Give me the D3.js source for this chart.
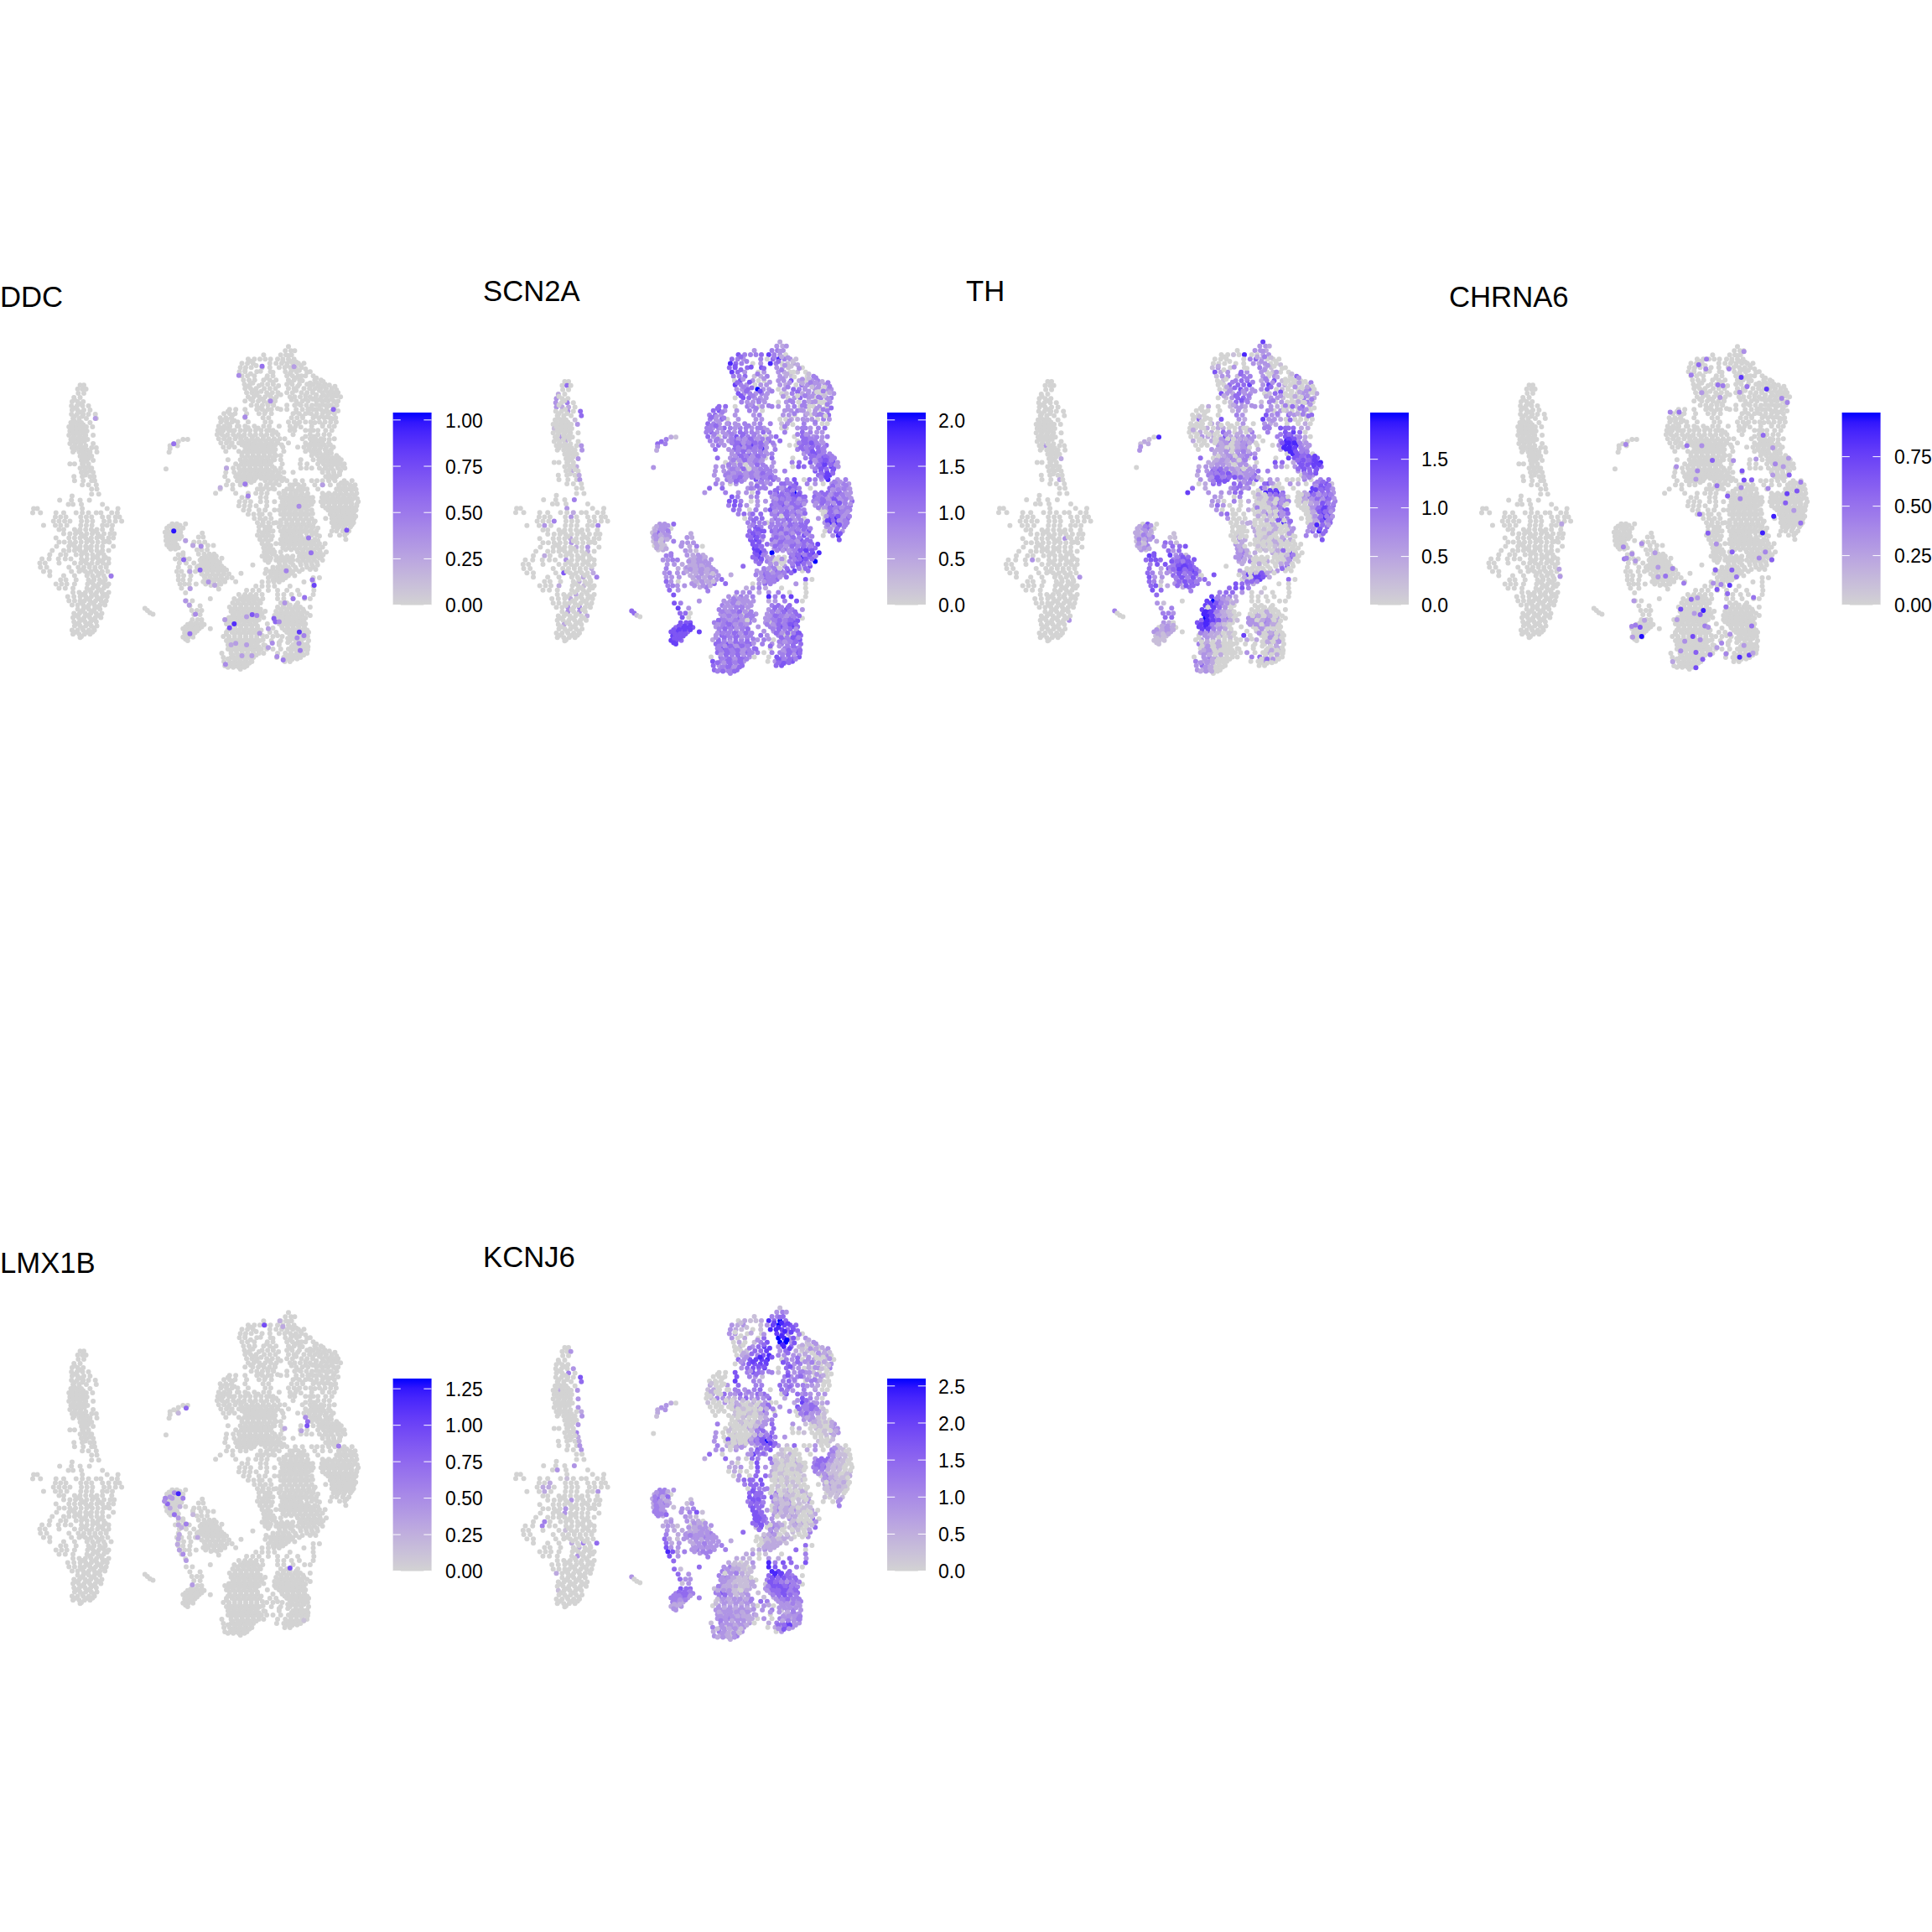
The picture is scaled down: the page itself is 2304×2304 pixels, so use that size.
<!DOCTYPE html>
<html>
<head>
<meta charset="utf-8">
<script src="https://d3js.org/d3.v7.min.js"></script>
<style>
body { margin: 0; background: #fff; }
text { font-family: "Liberation Sans", Arial, sans-serif; }
</style>
</head>
<body>
<div id="chart"></div>
<script>
// cells read row by row off the UMAP: [umap2, umap1, umap1, ...]
const cellRows = [
[478,258,270],[492,250,265,277],[507,252,270],[522,238,258],[537,232,250,268],[552,230,248,266,285],
[567,232,250,270,290],[582,230,248,268,285,307],[597,235,255,278,310],[612,228,245,262,290],
[627,222,240,258,278,298],[642,225,243,261,280],[657,222,240,258,276,300],[672,228,246,264,282],
[687,225,243,260,300],[702,232,250,268,295,310],[717,235,255,272,290,312],[732,258,275,295],
[747,262,280,300],[760,225,240,265,285],[775,258,276,295],[790,262,280,300],[805,238,265,290,303],
[820,240,268,295,305],[835,265,285,310],[850,295,312],[868,295,318],
[875,232],[890,192,230,258,288],[905,220,235,262,330],[920,108,120,265,345,380],
[935,105,130,180,205,245,265,285,310,325,360,378],[950,178,195,212,260,278,295,330,350,372,385],
[965,172,190,208,225,262,280,298,335,352,372,392],[980,140,178,195,215,260,278,296,330,345,362],
[995,190,205,240,258,276,294,312,330,360],[1010,205,225,243,261,279,297,315,335,368,355],
[1025,180,222,240,258,276,294,312,330,350,365],[1040,190,207,225,243,261,279,297,315,333,352],
[1055,182,222,240,258,276,294,312,330,365],[1070,168,205,222,240,258,276,294,312,330,350],
[1085,160,195,212,245,262,280,298,316,334],[1100,135,158,188,210,228,262,280,298,316,334,350],
[1115,128,145,190,240,260,278,296,314,332,350],[1130,130,150,222,252,270,288,306,324,342],
[1145,140,160,230,255,275,293,311,329,347],[1160,160,205,240,280,298,316,334,358],
[1175,195,212,245,285,303,321,339],[1190,180,198,215,240,282,300,318,336,350],
[1205,190,210,235,280,298,316,334],[1220,235,255,275,293,311,329,350],
[1235,218,238,258,276,294,312,330,345],[1250,222,240,258,272,290,308,326,342],
[1265,232,250,268,286,304,322,338],[1280,250,268,286,304,322],[1295,238,256,274,292,310,328],
[1310,235,253,271,289,307,325],[1325,238,256,274,292,310],[1340,240,258,276,294,312],
[1355,232,250,268,286,304],[1370,235,255,272,290],[1382,258],
[1277,467],[1285,475],[1293,483],[1298,493],
[672,590,605],[680,575],[688,560],[695,548,572],[705,548],[718,545],[778,535],
[975,555,570,598],[990,538,555,572,590],[1005,532,548,565,582],[1020,535,552,570,585],
[1035,535,550,565,598],[1050,538,555,570,622],[1065,550,565],[1078,590],[1085,575,590],
[1100,565,580,595,610],[1115,578,600,625],[1130,575,612,635],[1145,570,585,610,630],
[1160,575,592,615],[1175,575,590,612],[1190,580,595,610,632],[1205,585,612],[1222,598],
[1250,600,620],[1268,612,645],[1285,618,635,650],[1300,625,645],[1318,620,637,650],
[1335,605,622,640,658],[1350,590,607,625,642,678],[1365,595,612,628],[1380,590,607,622],[1393,605],
[1008,652],[1022,640,655],[1040,625,642,660],[1052,622,648,670,688],[1068,635,650,668],
[1083,640,658,675,690],[1098,650,668,686,715],[1112,655,672,690,708],[1126,640,660,678,696,714],
[1140,640,658,676,694,712,730],[1154,650,668,686,704,722,738],[1168,660,678,696,714,732,748],
[1182,655,672,690,708,725,760],[1195,680,700],[1208,705],[1243,678],[1152,777],[1122,815],
[340,930],[355,920,938,950],[370,850,905,922,940],[385,800,820,838,855,872,895,912,930,948],
[400,780,798,816,870,890,908,926,944,962,980],[415,775,792,810,845,870,900,918,936,954,972],
[430,772,790,828,872,920,938,956,1000],[445,780,798,820,862,880,925,943,961,985,1010],
[460,785,803,821,850,870,890,930,948,966,1015,1035],
[475,788,806,845,863,881,925,942,965,990,1010,1030,1048],
[490,790,808,826,852,870,888,930,948,980,998,1016,1034,1052,1070],
[505,795,812,830,860,878,896,925,943,972,990,1008,1040,1058,1076,1090],
[520,800,818,836,855,873,891,935,950,968,1000,1018,1036,1054,1072,1098],
[535,790,815,833,851,869,887,955,975,993,1020,1040,1058,1076,1090],
[550,810,828,846,864,882,925,950,970,988,1006,1030,1050,1068,1086],
[565,740,760,790,828,846,864,905,925,955,975,993,1011,1035,1053,1075],
[580,722,740,758,795,835,853,875,945,965,985,1003,1021,1040,1058,1078],
[595,710,728,746,790,848,866,940,958,976,1010,1028,1046,1064,1082],
[610,712,730,748,766,800,855,873,930,948,966,1002,1030,1048,1066,1084],
[625,705,723,741,770,790,820,850,868,900,935,953,1005,1040,1062,1078],
[640,702,720,738,756,790,806,824,842,860,880,935,950,985,1000,1070],
[655,700,716,734,752,770,788,806,824,842,860,878,896,945,1025,1045,1062],
[670,705,722,740,758,776,794,812,830,848,866,884,902,918,975,1000,1018,1035,1078],
[685,712,730,748,770,788,806,824,842,860,878,896,930,985,1003,1021,1040,1060],
[700,720,738,756,790,808,826,844,862,880,912,960,980,998,1016,1034,1052,1075],
[715,728,770,788,806,824,842,860,878,915,985,1003,1021,1060],
[730,780,798,816,834,852,870,890,1005,1023,1041,1059,1085],
[745,735,775,793,811,829,847,865,885,905,970,1010,1028,1046,1064,1082,1100],
[760,760,778,796,814,832,850,868,910,968,990,1025,1043,1061,1079,1097,1110],
[775,730,752,770,788,806,824,842,860,885,905,970,988,1005,1030,1048,1066,1090,1112],
[790,728,755,773,791,809,827,845,863,880,900,915,945,1040,1058,1076,1095],
[805,725,760,778,796,814,832,850,868,886,904,1050,1068,1085],
[820,735,765,783,801,819,855,873,891,909,925,952,975,1005,1022,1040,1060,1080,1110,1135],
[835,730,750,775,793,860,880,900,945,962,980,1015,1040,1065,1092,1110,1128,1145],
[850,710,750,830,848,866,885,925,943,961,979,1025,1085,1103,1121,1139],
[865,695,760,800,825,843,861,900,920,938,956,974,992,1040,1060,1080,1098,1116,1134,1150],
[880,780,798,840,858,905,925,943,961,979,997,1038,1056,1074,1092,1110,1128,1146],
[895,772,790,808,840,860,885,910,928,946,964,982,1000,1035,1053,1071,1089,1107,1125,1155],
[910,770,788,806,826,860,905,923,941,959,977,995,1040,1060,1078,1096,1114,1132,1150],
[925,785,803,835,855,885,900,918,936,954,972,990,1005,1058,1076,1094,1112,1130,1148],
[940,800,818,836,870,905,925,943,961,979,997,1065,1083,1101,1119,1137],
[955,820,838,856,874,915,933,951,969,987,1005,1050,1070,1088,1106,1124,1142],
[970,830,848,866,890,905,923,941,959,977,995,1012,1070,1088,1106,1124,1140],
[985,835,853,871,900,918,936,954,972,990,1010,1075,1093,1111,1130],
[1000,835,853,870,905,923,941,959,978,1000,1020,1070,1085,1105,1125],
[1015,830,848,866,910,928,946,964,1005,1022,1065,1095,1112],
[1030,838,856,874,905,923,941,959,977,995,1015,1115],
[1045,845,863,890,905,923,941,959,977,995,1013,1030,1048],
[1060,850,868,912,930,948,966,984,1002,1020],
[1075,852,870,885,905,960,978,996,1014,1032,1052],
[1090,845,863,890,908,926,944,965,983,1001,1019,1037],
[1105,855,870,890,908,926,944,960,978,996,1014,1040],
[1122,902,920,945,970,988,1006,1024],
[1138,858,880,898,916,934,955,975,1000,1018],
[1152,855,880,900,920,938],
[1168,865,885,903,921,1030,1010],
[1183,845,865,883,900,1010,980],
[1198,825,845,865,885,935,1010],
[1213,795,815,835,865,895,925,960,1012],
[1228,770,790,808,826,845,895,915,940,965,1010],
[1243,755,775,793,811,829,847,895,915,945,982,1000],
[1258,750,768,786,804,822,840,905,925,960],
[1273,740,758,776,794,812,830,895,913,931,950,968,1000],
[1288,745,763,781,799,817,835,855,890,908,926,944,962,980],
[1303,750,768,786,804,822,840,885,903,921,939,957,975,1000],
[1318,725,745,763,781,799,817,835,885,900,918,936,954,972],
[1333,730,750,768,786,804,822,862,900,918,936,954,972,985],
[1348,740,758,776,794,812,830,880,910,928,946,964,982],
[1363,730,748,766,784,802,820,838,870,890,925,943,961,979,995],
[1378,720,738,756,774,792,810,828,860,880,910,940,958,976,992],
[1393,730,748,766,784,802,820,838,875,905,935,953,971,995],
[1408,735,753,771,789,807,825,850,900,945,963,981],
[1423,735,753,771,789,807,825,843,860,880,905,930,948,966,984],
[1438,715,745,763,781,799,817,835,850,895,920,938,956,974,990],
[1453,720,745,763,781,799,817,892,915,933,951,969],
[1468,722,740,758,776,794,812,918,935],
[1483,725,742,760,778,796],
[1495,775]
];

// cells between the rows above, by region: [umap1, umap2]
const fillCells = [
[[808,392],[826,408],[790,425],[808,437],[840,428],[880,432],[815,470],[797,482],[835,480],[860,452],[880,468],[898,480],[817,497],[842,500],[868,512],[886,528],[905,512],[825,512],[808,528],[845,528],[863,544],[880,545],[838,560],[856,572],[875,565],[895,562]],
[[930,372],[912,392],[935,392],[955,395],[970,408],[925,408],[945,422],[965,425],[985,420],[935,437],[952,452],[972,445],[990,432],[1020,452],[938,468],[975,462],[1000,470],[1020,468],[1042,465],[960,482],[1000,485],[1025,482],[1043,482],[1062,478],[1080,482],[955,497],[1008,500],[1030,497],[1050,497],[1068,498],[1085,495],[985,515],[1020,512],[1045,515],[1065,512],[1085,517],[940,530],[985,528],[1008,528],[1030,530],[1050,532],[1068,528],[1082,540],[962,545],[1020,548],[1040,548],[1060,552],[1078,558],[1000,562],[1022,565],[1045,572],[1065,575],[1090,570],[955,575],[975,590],[995,578],[1015,590],[1038,590],[1055,592],[1072,598],[960,615],[985,610],[1015,612],[1040,620],[945,635],[970,628]],
[[735,572],[750,585],[732,600],[716,603],[755,605],[738,618],[715,632],[730,632],[765,625],[712,647],[745,640],[775,640],[800,630],[832,632]],
[[725,662],[762,662],[780,662],[815,662],[850,662],[870,640],[890,647],[735,678],[780,678],[800,678],[820,678],[838,678],[857,678],[875,678],[893,678]],
[[745,692],[780,692],[798,692],[816,692],[834,692],[852,692],[870,692],[888,692],[908,692],[800,708],[818,708],[835,708],[852,708],[870,708],[888,708]],
[[780,722],[798,722],[815,722],[833,722],[851,722],[869,722],[885,722],[790,738],[808,738],[825,738],[843,738],[861,738],[880,738],[905,730]],
[[785,752],[803,752],[820,752],[838,752],[856,752],[875,752],[770,768],[787,768],[805,768],[823,768],[841,768],[859,768],[877,768]],
[[780,783],[798,783],[816,783],[834,783],[852,783],[870,783],[890,783],[768,798],[786,798],[804,798],[822,798],[840,798],[858,798],[876,798],[895,798]],
[[770,812],[788,812],[806,812],[824,812],[842,812],[860,812],[880,812],[900,812],[915,812],[775,826],[793,826],[810,826],[840,835],[870,828],[888,830],[840,850],[858,842],[878,848]],
[[1010,640],[1025,640],[1050,640],[1000,655],[1012,662],[985,662],[1045,672],[1062,672],[1010,678],[1028,678],[990,692],[1010,692],[1028,692],[1045,692],[1065,692],[995,708],[1012,708],[1030,708],[1048,708],[1068,708],[1015,722],[1032,722],[1050,722],[1068,722],[1035,738],[1052,738],[1072,738],[1092,738],[1038,752],[1056,752],[1073,752],[1091,752],[1052,768],[1070,768],[1088,768],[1105,768],[1040,783],[1058,783],[1075,783],[1098,783],[1060,798],[1078,798],[1095,798],[1058,812],[1075,812]],
[[1100,828],[1118,828],[1136,840],[1095,842],[1112,842],[1130,852],[1094,855],[1112,855],[1148,852],[1050,872],[1070,872],[1088,872],[1106,872],[1124,872],[1142,872],[1045,888],[1063,888],[1081,888],[1099,888],[1117,888],[1136,888],[1152,885],[1043,902],[1062,902],[1080,902],[1098,902],[1116,902],[1134,902],[1150,905],[1050,918],[1068,918],[1086,918],[1104,918],[1122,918],[1140,918],[1070,932],[1088,932],[1106,932],[1124,932],[1142,932],[1075,948],[1093,948],[1111,948],[1129,948],[1147,948],[1078,963],[1096,963],[1114,963],[1133,963],[1080,978],[1098,978],[1116,978],[1135,978],[1088,992],[1108,992],[1118,1008]],
[[935,835],[955,832],[973,842],[990,850],[915,858],[935,850],[952,858],[970,858],[988,872]],
[[915,872],[935,872],[952,872],[970,872],[1008,880],[918,888],[937,888],[955,888],[973,888],[990,888],[1010,895]],
[[915,902],[933,902],[950,902],[968,902],[986,902],[1005,905],[912,918],[930,918],[948,918],[966,918],[984,918]],
[[915,932],[933,932],[951,932],[969,932],[987,932],[1008,938],[915,947],[934,947],[952,947],[970,947],[988,947]],
[[845,940],[855,925],[905,962],[924,962],[942,962],[960,962],[978,962],[996,962],[1016,965],[848,962],[865,985]],
[[882,972],[905,977],[927,977],[945,977],[963,977],[981,977],[1000,980],[845,978],[862,993],[880,1000]],
[[915,993],[933,993],[950,993],[968,993],[986,993],[1005,993],[1025,990],[845,1008],[862,1008]],
[[915,1008],[933,1008],[950,1008],[970,1008],[988,1008],[1012,1008],[840,1022],[858,1022],[878,1018]],
[[918,1022],[936,1022],[954,1022],[972,1022],[990,1022],[1030,1018],[845,1037],[865,1037]],
[[915,1037],[932,1037],[950,1037],[968,1037],[986,1037],[1005,1037],[1025,1035],[855,1052],[873,1052]],
[[915,1052],[933,1052],[950,1052],[968,1052],[986,1052],[1005,1052],[1025,1052],[1040,1058]],
[[860,1067],[880,1067],[921,1067],[939,1067],[957,1067],[975,1067],[993,1067],[1011,1067],[1030,1067]],
[[858,1082],[878,1082],[970,1082],[988,1082],[1006,1082],[1024,1082],[1042,1085]],
[[855,1097],[873,1097],[900,1097],[918,1097],[936,1097],[975,1097],[992,1097],[1010,1097],[1030,1097]],
[[865,1113],[900,1113],[918,1113],[936,1113],[968,1113],[986,1113],[1004,1113],[1022,1113]],
[[880,1130],[895,1130],[912,1130],[930,1130],[952,1130],[990,1130],[1010,1130]],
[[870,1145],[890,1145],[908,1145],[926,1145],[944,1145],[965,1145]],
[[872,1160],[892,1160],[910,1160],[930,1160],[950,1160]],
[[880,1175],[895,1175],[912,1175]],
[[785,1235],[803,1235],[820,1235],[765,1250],[783,1250],[800,1250],[818,1250],[836,1250],[758,1265],[776,1265],[794,1265],[812,1265],[830,1265]],
[[750,1280],[768,1280],[786,1280],[804,1280],[822,1280],[840,1280],[755,1295],[772,1295],[790,1295],[808,1295],[826,1295],[845,1295],[738,1310],[756,1310],[774,1310],[792,1310],[810,1310],[828,1310],[850,1310]],
[[736,1325],[754,1325],[772,1325],[790,1325],[808,1325],[826,1325],[740,1340],[758,1340],[776,1340],[794,1340],[812,1340],[830,1340]],
[[735,1355],[752,1355],[770,1355],[788,1355],[806,1355],[824,1355],[842,1355],[730,1370],[756,1370],[774,1370],[792,1370],[810,1370],[828,1370],[846,1375]],
[[738,1385],[756,1385],[774,1385],[792,1385],[810,1385],[828,1385],[848,1390],[740,1400],[758,1400],[776,1400],[794,1400],[812,1400],[830,1400]],
[[745,1415],[762,1415],[780,1415],[798,1415],[816,1415],[834,1415],[855,1410],[745,1430],[762,1430],[780,1430],[798,1430],[816,1430],[834,1430]],
[[750,1445],[772,1445],[790,1445],[808,1445],[826,1445],[735,1458],[755,1458],[772,1458],[790,1458],[808,1458],[750,1473],[768,1473],[786,1473],[804,1473],[735,1488],[752,1488],[770,1488],[788,1488]],
[[915,1265],[935,1265],[955,1265],[905,1280],[923,1280],[941,1280],[959,1280],[977,1280],[898,1295],[916,1295],[934,1295],[952,1295],[970,1295],[990,1295]],
[[893,1310],[911,1310],[929,1310],[947,1310],[965,1310],[985,1312],[890,1325],[908,1325],[926,1325],[944,1325],[962,1325],[980,1325]],
[[908,1340],[926,1340],[944,1340],[962,1340],[980,1340],[918,1355],[936,1355],[954,1355],[972,1355],[990,1355]],
[[934,1370],[952,1370],[970,1370],[988,1370],[895,1375],[928,1385],[944,1385],[962,1385],[980,1385],[900,1400],[928,1400],[954,1400],[972,1400],[990,1405]],
[[940,1415],[957,1415],[975,1415],[993,1415],[938,1430],[956,1430],[974,1430],[992,1425],[925,1445],[943,1445],[961,1445],[979,1445],[925,1458],[942,1460],[958,1458]],
[[662,1090],[680,1090],[697,1090],[645,1105],[662,1105],[680,1105],[698,1105],[648,1120],[665,1120],[685,1120],[703,1120],[650,1133],[668,1133],[686,1133],[704,1133],[722,1133],[668,1147],[685,1147],[703,1147],[720,1147],[658,1161],[676,1161],[694,1161],[712,1161],[668,1175],[686,1175],[704,1175],[722,1175],[663,1190],[690,1190],[712,1190]],
[[545,983],[563,983],[580,980],[540,998],[563,998],[580,998],[540,1013],[557,1013],[575,1013],[543,1028],[560,1028],[578,1028],[543,1043],[560,1043],[545,1058],[560,1058],[575,1060]],
[[615,1330],[632,1330],[650,1328],[598,1343],[615,1343],[633,1343],[650,1343],[602,1358],[618,1358],[635,1358],[600,1373],[617,1373],[598,1388]],
[[240,530],[258,545],[240,560],[260,575],[240,590],[265,590],[238,605],[255,605],[232,620],[250,620],[268,620],[232,635],[250,635],[268,635],[235,650],[250,650],[268,650],[236,665],[254,665],[272,665],[236,680],[254,680],[272,680],[240,695],[258,695],[276,695],[240,710],[262,710],[280,710],[268,725],[285,725],[268,740],[285,740],[270,755],[270,770],[285,770],[272,785],[290,785],[275,800]],
[[250,1003],[268,1018],[285,1033],[303,1002],[322,1020],[340,1038],[232,1048],[250,1063],[268,1078],[286,1060],[304,1093],[322,1078],[340,1095],[270,1108],[288,1122],[306,1138],[324,1108],[342,1123],[264,1140],[283,1152],[302,1168],[320,1153],[338,1170],[292,1183],[310,1198],[328,1183],[345,1198],[289,1212],[307,1228],[325,1213],[340,1228],[265,1228],[283,1243],[300,1258],[318,1243],[336,1258],[262,1258],[280,1273],[297,1288],[314,1273],[262,1288],[245,1303],[265,1318],[283,1303],[300,1318],[318,1303],[247,1333],[265,1348],[285,1333],[302,1348],[242,1363],[262,1378],[280,1363],[298,1362]]
];

// busy genes: one string per cellRows row, digit 0-9 = share of the gene's max, missing digits are 0
const scn2aLevels = [
"","050","","20","300","3040","3220","00305","0005","0001","00003","1000","","0300","0020","00003","00003","","003","","002","020","0002","0003","","","",
"","0004","","00300","00000020000","0000300000","00040000000","0030000004","","","0000200000","0000030000","000002030","0000000020","02","00000300000","","000000002","000600002","00000204","00002","0002001","","0002","0002","","00304","0303","000002","","02","","","","",
"5","5","1","",
"21","4","5","54","3","2","3",
"335","1330","1533","2323","1034","0214","12","4","44","3344","332","422","3433","333","530","4433","53","6","64","73","550","60","666","5776","67657","766","765","7",
"2","32","333","3240","321","3232","2323","2333","32323","223233","231233","121235","312355","24","4","3","2","5",
"2","323","3443","644457430","5434058431","8540384012","56563010","7530332010","44512432104","063003362034",
"74303332053333","335933035433033","634343014233003","06533303530434","43343034043003","550440433404030",
"563343033430304","45333433030445","435033300233043","543434344134300","434534434300345","4533435443544433",
"530436544303505434","44335445305505443","35356574430054545","5354543844554","354644335644","5345334050454654",
"0302343345636563","333450324306535673","3334034344346656","3434433444567","3435365453460543834","43032445464303443",
"553344546505333","3433055645954554533","64343554655435343","6640334553444453635","465335464553436435","540336343544034544",
"453545545305443","0455546440307835","4540545355538834","36444554553044","55655445360463","574343563038",
"67353543656","655353454357","743553465","6849453578","57330056853","45400045749","4035536","340556705",
"45443","354506","035403","234200","43423400","3243484670","33433323460","433423455","434330354643",
"3434043345435","4335343443540","4354334304356","3445343436475","543543335306","35435345340065","25453643405456",
"5463545434355","46453350435","53543544044356","05435530065356","64545303556","53453556","54345","4"
];
const thLevels = [
"","","","","","","","","","","","","","","","03","","","002","","","","","002","","","",
"","","","","","","","","","","0000003","","","","","00030","","","","00000003","","","","","","","","","","000003","","","","","",
"4","","","",
"08","1","2","12","3","3","0",
"060","2350","2131","2244","1042","2140","31","6","76","5665","466","526","5423","633","541","5602","65","5","31","34","443","55","320","0320","32320","121","111","1",
"1","11","541","4556","535","7351","4566","4665","44775","346573","556430","434545","334654","25","4","0","6","0",
"7","332","0332","001080023","0000452000","0000032300","13004210","6235330100","13314430305","014552461000",
"00555737420000","003643360100040","632533015000302","01355333100402","01534140300040","020133333200150",
"000013140310040","00004363353005","050063273300000","000220030320020","000222002044652","0020205302044750",
"003220623343046630","20020352433048732","00032023400387833","0322323322874","223243408650","5023424050765466",
"2232023065264678","233303200243036475","3356303433543655","2454353235043","3365624560320004045","02555406203204561",
"523534600007564","7333550087850273553","32040102540353564","3204020020540203254","253001003500033565","300020002066025754",
"450001425302076","3000000364002584","0012000308403025","00020002033025","00020020033585","020201000432",
"03201020326","320001020000","330200100","3402210600","34200000250","22400200030","0000350","300002300",
"07775","006705","654200","566400","45530100","7444200000","79531200000","775200000","786321000000",
"8733210020200","9652403303020","6875210332422","7862300032000","563201010330","03222007000320","03020000220030",
"4202000000220","03020000002","23200000300200","03430000452000","42300000300","35200000","32200","0"
];
const kcnj6Levels = [
"","003","","","","0003","0040","00006","0005","","02003","","00003","","0003","00002","00003","","003","","004","002","0002","0003","003","","",
"","0003","03","","000001","002","022","0020000003","","00003","","00003","0003","","04","004","00001","","","00020405","00002","","00003","","","","2","","","","1","","","","",
"3","","","",
"20","3","3","23","2","1","0",
"443","2430","2512","2342","2431","4432","42","2","23","2321","322","423","5213","523","633","8624","63","5","51","53","533","13","655","4554","44434","432","223","3",
"1","13","324","3461","321","3220","0213","1231","33324","333433","232233","334334","343334","34","4","5","2","5",
"1","343","1445","021128595","3231379765","3210188756","33007630","3020598313","02014699313","013573851001",
"00155735201202","022468433200230","536778043032010","04667753420013","35657053300304","006465415343100",
"000643143432030","00074345304300","200354454443200","120043450544300","020535335506533","0143214534352420",
"100312002030027333","00003100335364450","00010011504034330","0010200140320","010100333200","4002011353102003",
"0100225502010033","300100053500100133","3000003656430000","3001045694101","4203223553150030010","33036260002304310",
"503743102004211","2520545010103553210","20064110204532110","2230631010014551200","020052010014311101","030352010101042012",
"355601000123211","4556002010023110","0544010211012110","55504021010120","65452310021011","465321313003",
"55503131014","643042131020","653123201","6643310050","56432013210","16043011005","4101004","033022003",
"01121","022205","123205","230104","22103253","2101384656","34210286540","433001875","442122587540",
"3321120465545","3211121665640","1221012355665","4631231356445","432212125434","02323345434234","03323230303323",
"3332332341343","32323230233","33433220304324","14333230245723","43132302363","24311303","32214","2"
];

// same digits for fillCells, one string per region (the last two regions stay at 0)
const scn2aFill = [
"54656535643345634564433434",
"342315312420313031432432443130453042304341342304403453432340323440",
"54354345343434","434544344335344","345345534435453","34534433543544","4353434340354","435034443434354","345343454354343454",
"434534435445643545544654545435645753465657547",
"43453434345354345363433543643435434053433563475344364356",
"545453546","45465344534","45354344435","34543540534","54344534554","4443545466","453445465","435354565","54354466","354435565","54354545","754334676","6445464","563034565","53304654","4340545","343445","34435","344",
"4333423333443","4345343433445434303","345343454345","34453543545344","5435453435354","4545345354534","453545354545354545",
"54543545354345","345456435465","4545353546","54643434553454","354545356454565",
"2323233222332323232123232321332","23323432331221212","6776777666667"
];
const thFill = [
"00203000454425343325642323",
"324103301303014200330020450302060230230203440203454303403245325042",
"00100000020000","000320200300223","002302320200230","22303420230343","2323042332033","454320344563233","364565342466534453",
"552654427668843887438644656756576677565645634",
"45536575302534402353530023644003574026530354302643853365",
"530003774","20450103034","00203040024","02003520103","00002060500","2000200000","010200300","002003000","01002002","000200020","10010000","220102500","3200140","320000030","20200230","0000050","201620","20762","554",
"4327643207530","8742108732105876321","784210774320","43220100320010","0202000030200","2300000320200","320003320032002320",
"00000200020200","302300330320","0300030200","03000020300020","020000200530000",
"4656546467657565645646465654565","24323224242331232","2323232212111"
];
const kcnj6Fill = [
"11002300435725876337663544",
"578768875896428621371322352032153003653422162310433206453420543243",
"00010020000344","000113400201035","000100024001023","00100120100234","0000131000145","000012460002465","100034675023355355",
"433653324554541453312311211201020102001200100",
"31041131055311054211004421100331101321100112011211110113",
"100001100","10100100010","10011001000","00100000110","55010010055","4001002655","201100066","112010554","21101065","212101165","21211002","650212001","6510003","560322101","53200102","1230100","012121","02221","222",
"1113221103421","3321103211124222112","233102453123","13233241323232","3232323233323","3332222432332","332321323132312323",
"87565655654344","466544355645","4565434544","33432333333243","333424345573363",
"3233233223343333323323433333344","34242543243343445","5544453434223"
];

// sparse genes: the few positive cells as [umap1, umap2, value]
const ddcPositive = [
[845,410,.55],[1075,565,.6],[790,592,.4],[560,1000,1],[560,688,.55],[307,597,.3],[358,1162,.5],[800,875,.45],
[770,443,.4],[872,535,.4],[948,412,.3],[730,775,.25],[710,845,.2],[1118,997,.7],[1040,835,.3],[964,912,.4],
[995,1025,.5],[1003,1078,.55],[923,1143,.45],[1007,1175,.5],[1013,1195,.8],[982,1238,.55],[945,1243,.5],
[918,1258,.35],[598,1035,.3],[622,1052,.25],[648,1055,.4],[592,1103,.6],[612,1145,.25],[645,1140,.6],
[672,1183,.35],[692,1195,.25],[613,1207,.3],[598,1250,.35],[610,1265,.3],[630,1298,.4],[612,1368,.55],
[740,1347,.75],[755,1333,.9],[813,1300,.7],[828,1303,.45],[795,1307,.3],[883,1313,.65],[888,1325,.6],
[900,1325,.4],[965,1362,.85],[958,1383,.4],[980,1375,.45],[964,1403,.4],[968,1428,.5],[837,1367,.35],
[865,1350,.3],[878,1402,.4],[865,1418,.3],[745,1408,.25],[760,1403,.3],[795,1408,.3],[780,1447,.3],
[812,1447,.3],[893,1450,.4],[913,1462,.5],[727,1478,.4],[725,1318,.3],[790,832,.5]
];
const chrna6Positive = [
[805,405,.55],[830,385,.45],[828,420,.4],[781,442,.45],[867,477,.5],[883,480,.45],[903,420,.4],[942,450,.8],
[951,358,.35],[961,483,.5],[1024,492,.8],[1073,525,.4],[1091,540,.4],[815,505,.3],[874,522,.3],[937,503,.35],
[713,575,.4],[742,575,.5],[1013,657,.55],[1044,702,.3],[767,695,.5],[815,695,.35],[990,743,.3],[1095,740,.3],
[1078,770,.3],[1052,760,.4],[1097,800,.6],[1044,800,.3],[733,770,.35],[849,747,.6],[917,748,.35],[801,785,.4],
[796,815,.3],[945,785,.65],[951,818,.7],[976,817,.6],[864,838,.5],[942,845,.4],[898,875,.6],[939,885,.4],
[1029,848,.4],[1090,867,.75],[1122,857,.65],[1134,825,.45],[1085,900,.6],[1112,927,.3],[1047,948,.9],
[1134,972,.5],[808,940,.55],[1011,1007,.9],[835,1008,.6],[862,1047,.35],[913,1075,.6],[1041,1103,.6],
[1000,1097,.4],[1020,1075,.4],[859,1140,.6],[912,1140,.6],[927,1165,.5],[905,1195,.8],[864,1210,.65],
[852,1187,.35],[877,1192,.4],[898,1225,.55],[893,1272,.5],[982,1238,.5],[747,1280,.7],[781,1245,.55],
[820,1285,.9],[801,1240,.3],[810,1300,.6],[791,1295,.3],[825,1340,.45],[836,1345,.35],[976,1340,.5],
[735,1318,.3],[786,1378,.7],[760,1395,.35],[810,1390,.35],[747,1430,.35],[796,1435,.6],[842,1443,.55],
[818,1460,.6],[796,1490,.7],[721,1468,.25],[864,1418,.3],[879,1402,.4],[893,1440,.4],[937,1452,.85],
[968,1445,.75],[980,1437,.25],[951,1410,.3],[906,1370,.35],[565,1100,.45],[572,1098,.4],[590,1082,.35],
[601,1108,.3],[562,1057,.4],[621,1045,.35],[664,1078,.3],[674,1130,.3],[721,1135,.4],[698,1162,.5],
[674,1165,.3],[757,1187,.45],[570,690,.4],[363,975,.25],[355,1137,.25],[358,1163,.3],[596,1250,.3],
[616,1345,.65],[589,1342,.4],[601,1337,.45],[621,1378,.95],[592,1380,.3],[630,1320,.25]
];
const lmx1bPositive = [
[852,385,.95],[912,390,.3],[902,370,.25],[600,682,.75],[575,700,.2],[985,715,.5],[992,730,.7],[990,745,.9],
[918,755,.3],[972,763,.35],[1092,818,.6],[533,1005,.55],[548,1000,.4],[562,985,.5],[575,988,1.2],[540,1025,.75],
[555,1005,.4],[530,1015,.5],[548,1040,.3],[562,1063,.7],[575,1075,.4],[580,1035,.25],[590,1005,.6],[600,1097,.6],
[575,1100,.3],[585,1110,.25],[578,1135,.3],[575,1150,.3],[572,1170,.3],[578,1190,.35],[590,1205,.5],[600,1228,.4],
[622,1063,.2],[637,1145,.3],[620,1315,.4],[980,1442,.12],[935,1255,.9]
];

const geneNames = ["DDC", "SCN2A", "TH", "CHRNA6", "LMX1B", "KCNJ6"];
const geneMax = [1.04, 2.08, 1.98, 0.973, 1.32, 2.6];
const geneTicks = [
    ["0.00", "0.25", "0.50", "0.75", "1.00"],
    ["0.0", "0.5", "1.0", "1.5", "2.0"],
    ["0.0", "0.5", "1.0", "1.5"],
    ["0.00", "0.25", "0.50", "0.75"],
    ["0.00", "0.25", "0.50", "0.75", "1.00", "1.25"],
    ["0.0", "0.5", "1.0", "1.5", "2.0", "2.5"]
];
const geneLevels = [null, scn2aLevels, thLevels, null, null, kcnj6Levels];
const geneFill = [null, scn2aFill, thFill, null, null, kcnj6Fill];
const genePositive = [ddcPositive, null, null, chrna6Positive, lmx1bPositive, null];

const panelW = 576, panelH = 1152;

const svg = d3.select("#chart").append("svg")
    .attr("width", 2304)
    .attr("height", 2304)
    .style("display", "block");
const defs = svg.append("defs");

function cellsFor(levels, fill, maxValue) {
    let cells = [];
    cellRows.forEach((row, i) => {
        row.slice(1).forEach((x, j) => {
            let digit = levels ? +(levels[i].charAt(j) || 0) : 0;
            cells.push({x: x, y: row[0], value: digit / 9 * maxValue});
        });
    });
    fillCells.forEach((region, i) => {
        let digits = fill && fill[i] ? fill[i] : "";
        region.forEach((c, j) => {
            cells.push({x: c[0], y: c[1], value: +(digits.charAt(j) || 0) / 9 * maxValue});
        });
    });
    return cells;
}

geneNames.forEach((name, i) => {
    const maxValue = geneMax[i];
    const ticks = geneTicks[i];
    // 4-character tick labels squeeze the plot a bit, as in the original layout
    const wideLabels = ticks[0].length == 4;

    const g = svg.append("g")
        .attr("transform", `translate(${(i % 4) * panelW},${Math.floor(i / 4) * panelH})`);

    const x = d3.scaleLinear().domain([105, 1160]).range(wideLabels ? [39, 429] : [39, 442]);
    const y = d3.scaleLinear().domain([335, 1495]).range(wideLabels ? [411.7, 798] : [406, 803]);
    const color = d3.scaleLinear()
        .domain([0, maxValue])
        .range(["lightgrey", "blue"])
        .interpolate(d3.interpolateLab);

    g.append("text")
        .attr("x", 0)
        .attr("y", wideLabels ? 365.5 : 359)
        .attr("font-size", 34.7)
        .attr("fill", "#000")
        .text(name);

    let cells = cellsFor(geneLevels[i], geneFill[i], maxValue);
    if (genePositive[i])
        cells = cells.concat(genePositive[i].map(d => ({x: d[0], y: d[1], value: d[2]})));

    g.append("g").selectAll("circle")
        .data(cells)
        .enter()
        .append("circle")
        .attr("cx", d => x(d.x))
        .attr("cy", d => y(d.y))
        .attr("r", 3)
        .attr("fill", d => color(d.value));

    // colourbar
    const barX = wideLabels ? 468.6 : 482, barW = 46;
    const legend = d3.scaleLinear().domain([0, maxValue]).range([721.6, 492]);
    const grad = defs.append("linearGradient")
        .attr("id", "bar" + i)
        .attr("x1", 0).attr("y1", 1).attr("x2", 0).attr("y2", 0);
    grad.selectAll("stop")
        .data(d3.range(0, 21))
        .enter()
        .append("stop")
        .attr("offset", d => d / 20)
        .attr("stop-color", d => color(d / 20 * maxValue));

    g.append("rect")
        .attr("x", barX)
        .attr("y", legend(maxValue))
        .attr("width", barW)
        .attr("height", legend(0) - legend(maxValue))
        .attr("fill", `url(#bar${i})`);

    const tickValues = ticks.map(Number);
    [[barX, barX + barW / 5], [barX + barW, barX + barW * 4 / 5]].forEach(ends => {
        g.append("g").selectAll("line")
            .data(tickValues)
            .enter()
            .append("line")
            .attr("x1", ends[0])
            .attr("x2", ends[1])
            .attr("y1", d => legend(d))
            .attr("y2", d => legend(d))
            .attr("stroke", "#fff")
            .attr("stroke-width", 1);
    });

    const axis = d3.axisRight(legend)
        .tickValues(tickValues)
        .tickFormat((d, k) => ticks[k])
        .tickSize(0)
        .tickPadding(wideLabels ? 16.5 : 15);
    const axisG = g.append("g")
        .attr("transform", `translate(${barX + barW},0)`)
        .call(axis);
    axisG.select(".domain").remove();
    axisG.selectAll("text")
        .attr("dy", "0.36em")
        .attr("font-family", '"Liberation Sans", Arial, sans-serif')
        .attr("font-size", 23)
        .attr("fill", "#000");
});
</script>
</body>
</html>
